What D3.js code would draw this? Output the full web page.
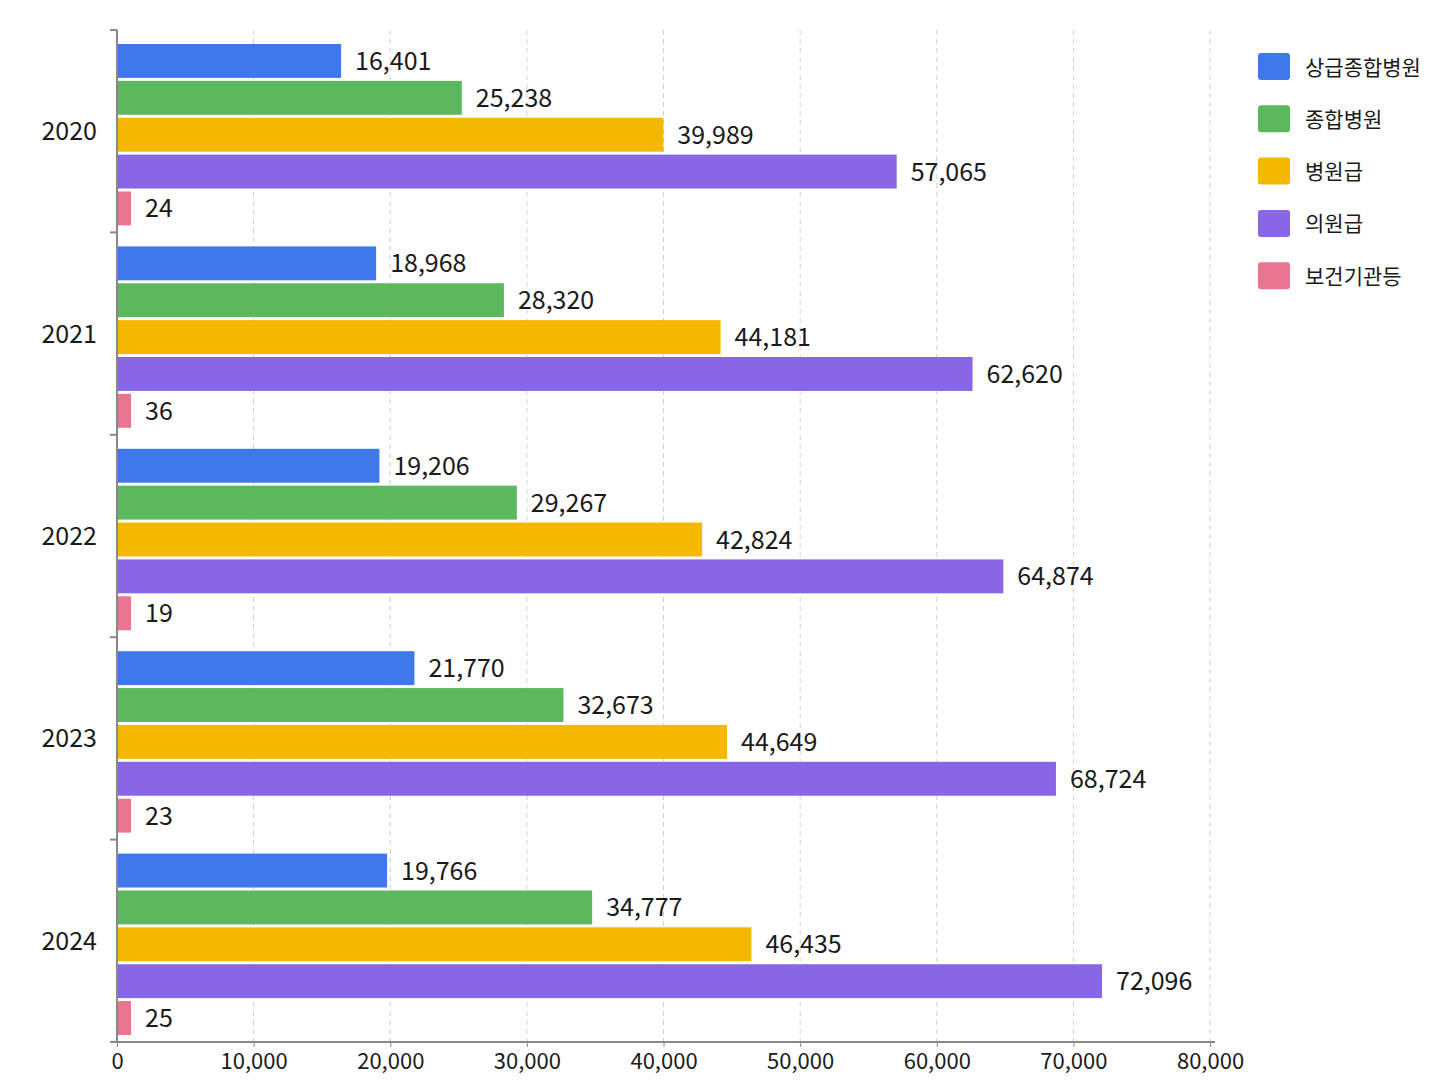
<!DOCTYPE html>
<html>
<head>
<meta charset="utf-8">
<script src="https://cdn.jsdelivr.net/npm/d3@7"></script>
<style>
  body { margin: 0; background: #fff; }
  svg { font-family: "Noto Sans CJK KR", "Noto Sans", sans-serif; }
</style>
</head>
<body>
<svg id="chart"></svg>
<script>
// years on the y axis, one group of bars each
const years = ['2020', '2021', '2022', '2023', '2024']
// hospital types (legend order)
const types = ['상급종합병원', '종합병원', '병원급', '의원급', '보건기관등']
const colors = ['#3f78ea', '#5cb85c', '#f5b700', '#8866e6', '#ea7590']

// values per type, in year order
const tertiary = [16401, 18968, 19206, 21770, 19766]
const general = [25238, 28320, 29267, 32673, 34777]
const hospital = [39989, 44181, 42824, 44649, 46435]
const clinic = [57065, 62620, 64874, 68724, 72096]
const publicHealth = [24, 36, 19, 23, 25]
const xTicks = [0, 10000, 20000, 30000, 40000, 50000, 60000, 70000, 80000]

const seriesValues = [tertiary, general, hospital, clinic, publicHealth]

let rows = []
years.forEach(function(yr, i) {
    types.forEach(function(t, j) {
        rows.push({ year: yr, type: t, value: seriesValues[j][i], color: colors[j] })
    })
})

let svgWidth = 1448, svgHeight = 1086
let margin = { top: 30, right: 238, bottom: 44, left: 117 }
let width = svgWidth - margin.left - margin.right
let height = svgHeight - margin.top - margin.bottom

let svg = d3.select('#chart')
    .attr('width', svgWidth)
    .attr('height', svgHeight)

let g = svg.append('g')
    .attr('transform', 'translate(' + margin.left + ',' + margin.top + ')')

let x = d3.scaleLinear()
    .domain([0, 80000])
    .range([0, width])

let y0 = d3.scaleBand()
    .domain(years)
    .range([0, height])

let y1 = d3.scaleBand()
    .domain(types)
    .range([14, y0.bandwidth() - 7])
    .paddingInner(0.08)

// dashed vertical grid
g.append('g')
    .selectAll('line')
    .data(xTicks.slice(1))
    .join('line')
    .attr('x1', d => x(d)).attr('x2', d => x(d))
    .attr('y1', 0).attr('y2', height)
    .attr('stroke', '#d0d0d0')
    .attr('stroke-dasharray', '5,4')

// bars (tiny values get a minimum visible width)
let minW = 14
g.append('g')
    .selectAll('rect')
    .data(rows)
    .join('rect')
    .attr('x', 0)
    .attr('y', d => y0(d.year) + y1(d.type))
    .attr('width', d => Math.max(x(d.value), minW))
    .attr('height', y1.bandwidth())
    .attr('fill', d => d.color)

// value labels
g.append('g')
    .selectAll('text')
    .data(rows)
    .join('text')
    .attr('x', d => Math.max(x(d.value), minW) + 14)
    .attr('y', d => y0(d.year) + y1(d.type) + y1.bandwidth() / 2)
    .attr('dy', '0.36em')
    .attr('font-size', 25)
    .attr('fill', '#1a1a1a')
    .text(d => d3.format(',')(d.value))

// x axis
let xAxis = g.append('g')
    .attr('transform', 'translate(0,' + height + ')')
    .call(d3.axisBottom(x).tickValues(xTicks).tickFormat(d3.format(',')).tickSize(5).tickSizeOuter(0))
xAxis.select('.domain').attr('stroke', '#888').attr('stroke-width', 2).attr('d', 'M-7,0H' + (width + 5))
xAxis.selectAll('.tick line').attr('stroke', '#888')
xAxis.selectAll('.tick text')
    .attr('font-size', 22)
    .attr('font-family', '"Noto Sans CJK KR", sans-serif')
    .attr('fill', '#1a1a1a')
    .attr('dy', '0.85em')

// y axis with ticks at group boundaries
g.append('line')
    .attr('x1', 0).attr('x2', 0)
    .attr('y1', 0).attr('y2', height)
    .attr('stroke', '#888').attr('stroke-width', 2)
g.append('g')
    .selectAll('line')
    .data(years)
    .join('line')
    .attr('x1', -7).attr('x2', 0)
    .attr('y1', d => y0(d)).attr('y2', d => y0(d))
    .attr('stroke', '#888').attr('stroke-width', 2)
g.append('g')
    .selectAll('text')
    .data(years)
    .join('text')
    .attr('x', -20)
    .attr('y', d => y0(d) + y0.bandwidth() / 2)
    .attr('dy', '0.36em')
    .attr('text-anchor', 'end')
    .attr('font-size', 25)
    .attr('fill', '#1a1a1a')
    .text(d => d)

// legend
let legend = svg.append('g')
    .attr('transform', 'translate(1258,53)')
let item = legend.selectAll('g')
    .data(types)
    .join('g')
    .attr('transform', (d, i) => 'translate(0,' + i * 52.3 + ')')
item.append('rect')
    .attr('width', 32).attr('height', 27)
    .attr('rx', 3)
    .attr('fill', (d, i) => colors[i])
item.append('text')
    .attr('x', 47)
    .attr('y', 14)
    .attr('dy', '0.36em')
    .attr('font-size', 21)
    .attr('fill', '#1a1a1a')
    .text(d => d)
</script>
</body>
</html>
